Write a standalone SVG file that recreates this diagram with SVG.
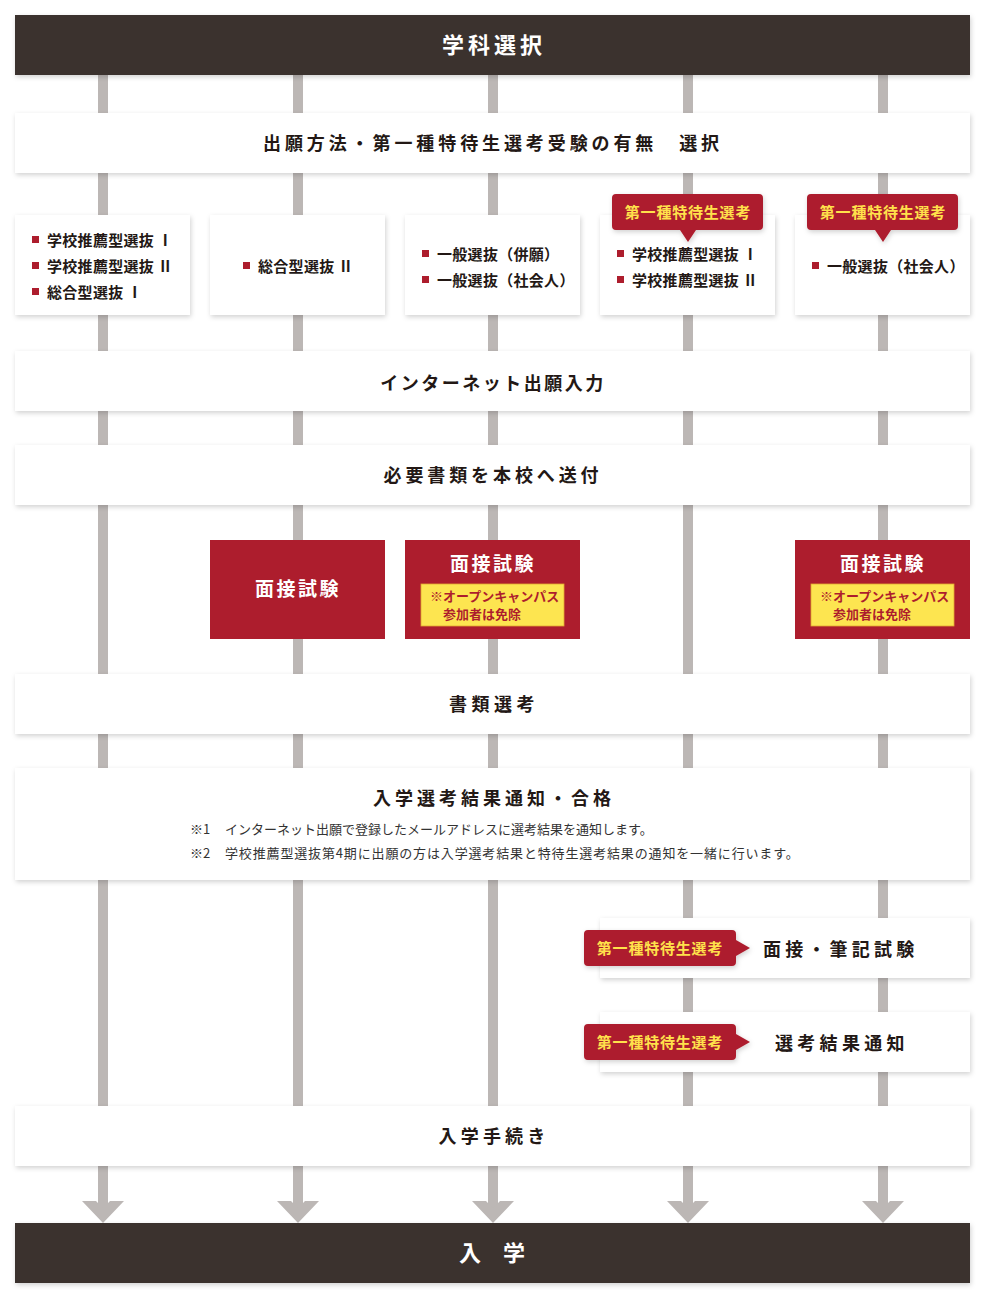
<svg xmlns="http://www.w3.org/2000/svg" width="987" height="1300" viewBox="0 0 987 1300">
<defs>
<style>
text{font-family:"Noto Sans CJK JP","Noto Sans",sans-serif;}
.bar{fill:#3b302e;}
.box{fill:#ffffff;filter:url(#sh);}
.red{fill:#ad1d2d;}
.line{fill:#bcb7b5;}
.hd{font-size:18px;font-weight:700;fill:#231815;letter-spacing:3.6px;text-anchor:middle;}
.wt{font-size:22px;font-weight:700;fill:#ffffff;text-anchor:middle;}
.it{font-size:15px;font-weight:700;fill:#231815;letter-spacing:0.3px;}
.sq{fill:#ad1d2d;}
.tag{fill:#ad1d2d;filter:url(#sh);}
.tagt{font-size:15px;font-weight:700;fill:#ffe14b;text-anchor:middle;letter-spacing:0.8px;}
.rt{font-size:19px;font-weight:700;fill:#ffffff;text-anchor:middle;letter-spacing:2.5px;}
.yb{fill:#fde550;stroke:#e0a830;stroke-width:0.8;}
.yt{font-size:13px;font-weight:700;fill:#ad1d2d;}
.note{font-size:13px;fill:#333333;letter-spacing:0.85px;}
</style>
<filter id="sh" x="-10%" y="-30%" width="120%" height="160%">
<feDropShadow dx="1" dy="2" stdDeviation="2.5" flood-color="#000000" flood-opacity="0.18"/>
</filter>
</defs>

<g id="connectors">
<rect class="line" x="98" y="75" width="10" height="1140"/>
<rect class="line" x="293" y="75" width="10" height="1140"/>
<rect class="line" x="488" y="75" width="10" height="1140"/>
<rect class="line" x="683" y="75" width="10" height="1140"/>
<rect class="line" x="878" y="75" width="10" height="1140"/>
<polygon class="line" points="82,1201 96,1201 103,1208 110,1201 124,1201 103,1223"/>
<polygon class="line" points="277,1201 291,1201 298,1208 305,1201 319,1201 298,1223"/>
<polygon class="line" points="472,1201 486,1201 493,1208 500,1201 514,1201 493,1223"/>
<polygon class="line" points="667,1201 681,1201 688,1208 695,1201 709,1201 688,1223"/>
<polygon class="line" points="862,1201 876,1201 883,1208 890,1201 904,1201 883,1223"/>
</g>

<g id="n-gakka">
<rect class="bar" x="15" y="15" width="955" height="60" filter="url(#sh)"/>
<text class="wt" x="494" y="53" style="letter-spacing:4px">学科選択</text>
</g>

<g id="n-shutsugan">
<rect class="box" x="15" y="113" width="955" height="60"/>
<text class="hd" x="493" y="150" style="letter-spacing:3.9px">出願方法・第一種特待生選考受験の有無　選択</text>
</g>

<g id="n-sub1">
<rect class="box" x="15" y="215" width="175" height="100"/>
<rect class="sq" x="32" y="236" width="7" height="7"/>
<text class="it" x="47" y="245.5">学校推薦型選抜 Ⅰ</text>
<rect class="sq" x="32" y="262" width="7" height="7"/>
<text class="it" x="47" y="271.5">学校推薦型選抜 Ⅱ</text>
<rect class="sq" x="32" y="288" width="7" height="7"/>
<text class="it" x="47" y="297.5">総合型選抜 Ⅰ</text>
</g>

<g id="n-sub2">
<rect class="box" x="210" y="215" width="175" height="100"/>
<rect class="sq" x="243" y="262" width="7" height="7"/>
<text class="it" x="258" y="271.5">総合型選抜 Ⅱ</text>
</g>

<g id="n-sub3">
<rect class="box" x="405" y="215" width="175" height="100"/>
<rect class="sq" x="422" y="250" width="7" height="7"/>
<text class="it" x="437" y="259.5">一般選抜（併願）</text>
<rect class="sq" x="422" y="276" width="7" height="7"/>
<text class="it" x="437" y="285.5">一般選抜（社会人）</text>
</g>

<g id="n-sub4">
<rect class="box" x="600" y="215" width="175" height="100"/>
<rect class="sq" x="617" y="250" width="7" height="7"/>
<text class="it" x="632" y="259.5">学校推薦型選抜 Ⅰ</text>
<rect class="sq" x="617" y="276" width="7" height="7"/>
<text class="it" x="632" y="285.5">学校推薦型選抜 Ⅱ</text>
<path class="tag" d="M616,194 H759 a4,4 0 0 1 4,4 V226 a4,4 0 0 1 -4,4 H696 L688,242 L680,230 H616 a4,4 0 0 1 -4,-4 V198 a4,4 0 0 1 4,-4 Z"/>
<text class="tagt" x="688" y="217.5">第一種特待生選考</text>
</g>

<g id="n-sub5">
<rect class="box" x="795" y="215" width="175" height="100"/>
<rect class="sq" x="812" y="262" width="7" height="7"/>
<text class="it" x="827" y="271.5">一般選抜（社会人）</text>
<path class="tag" d="M811,194 H954 a4,4 0 0 1 4,4 V226 a4,4 0 0 1 -4,4 H891 L883,242 L875,230 H811 a4,4 0 0 1 -4,-4 V198 a4,4 0 0 1 4,-4 Z"/>
<text class="tagt" x="883" y="217.5">第一種特待生選考</text>
</g>

<g id="n-internet">
<rect class="box" x="15" y="351" width="955" height="60"/>
<text class="hd" x="493" y="390" style="letter-spacing:2.5px">インターネット出願入力</text>
</g>

<g id="n-shorui">
<rect class="box" x="15" y="445" width="955" height="60"/>
<text class="hd" x="493" y="482" style="letter-spacing:3.9px">必要書類を本校へ送付</text>
</g>

<g id="n-mensetsu1">
<rect class="red" x="210" y="540" width="175" height="99"/>
<text class="rt" x="298" y="596">面接試験</text>
</g>

<g id="n-mensetsu2">
<rect class="red" x="405" y="540" width="175" height="99"/>
<text class="rt" x="493" y="571">面接試験</text>
<rect class="yb" x="421" y="584" width="143" height="42"/>
<text class="yt" x="430" y="601">※オープンキャンパス</text>
<text class="yt" x="443" y="619">参加者は免除</text>
</g>

<g id="n-mensetsu3">
<rect class="red" x="795" y="540" width="175" height="99"/>
<text class="rt" x="883" y="571">面接試験</text>
<rect class="yb" x="811" y="584" width="143" height="42"/>
<text class="yt" x="820" y="601">※オープンキャンパス</text>
<text class="yt" x="833" y="619">参加者は免除</text>
</g>

<g id="n-shoruisenko">
<rect class="box" x="15" y="674" width="955" height="60"/>
<text class="hd" x="494" y="711" style="letter-spacing:4.5px">書類選考</text>
</g>

<g id="n-kekka">
<rect class="box" x="15" y="768" width="955" height="112"/>
<text class="hd" x="494" y="805" style="letter-spacing:4px">入学選考結果通知・合格</text>
<text class="note" x="190" y="834" style="letter-spacing:0px">※1</text>
<text class="note" x="225" y="834" style="letter-spacing:0px">インターネット出願で登録したメールアドレスに選考結果を通知します。</text>
<text class="note" x="190" y="858" style="letter-spacing:0px">※2</text>
<text class="note" x="225" y="858">学校推薦型選抜第4期に出願の方は入学選考結果と特待生選考結果の通知を一緒に行います。</text>
</g>

<g id="n-hikki">
<rect class="box" x="600" y="918" width="370" height="60"/>
<path class="tag" d="M588,930 H732 a4,4 0 0 1 4,4 V940 L750,948 L736,956 V962 a4,4 0 0 1 -4,4 H588 a4,4 0 0 1 -4,-4 V934 a4,4 0 0 1 4,-4 Z"/>
<text class="tagt" x="660" y="953.5">第一種特待生選考</text>
<text class="hd" x="763" y="956" style="text-anchor:start;letter-spacing:4.2px">面接・筆記試験</text>
</g>

<g id="n-tsuchi">
<rect class="box" x="600" y="1012" width="370" height="60"/>
<path class="tag" d="M588,1024 H732 a4,4 0 0 1 4,4 V1034 L750,1042 L736,1050 V1056 a4,4 0 0 1 -4,4 H588 a4,4 0 0 1 -4,-4 V1028 a4,4 0 0 1 4,-4 Z"/>
<text class="tagt" x="660" y="1047.5">第一種特待生選考</text>
<text class="hd" x="775" y="1050" style="text-anchor:start;letter-spacing:4.3px">選考結果通知</text>
</g>

<g id="n-tetsuzuki">
<rect class="box" x="15" y="1106" width="955" height="60"/>
<text class="hd" x="494" y="1143" style="letter-spacing:4.2px">入学手続き</text>
</g>

<g id="n-nyugaku">
<rect class="bar" x="15" y="1223" width="955" height="60" filter="url(#sh)"/>
<text class="wt" x="492" y="1261">入　学</text>
</g>
</svg>
